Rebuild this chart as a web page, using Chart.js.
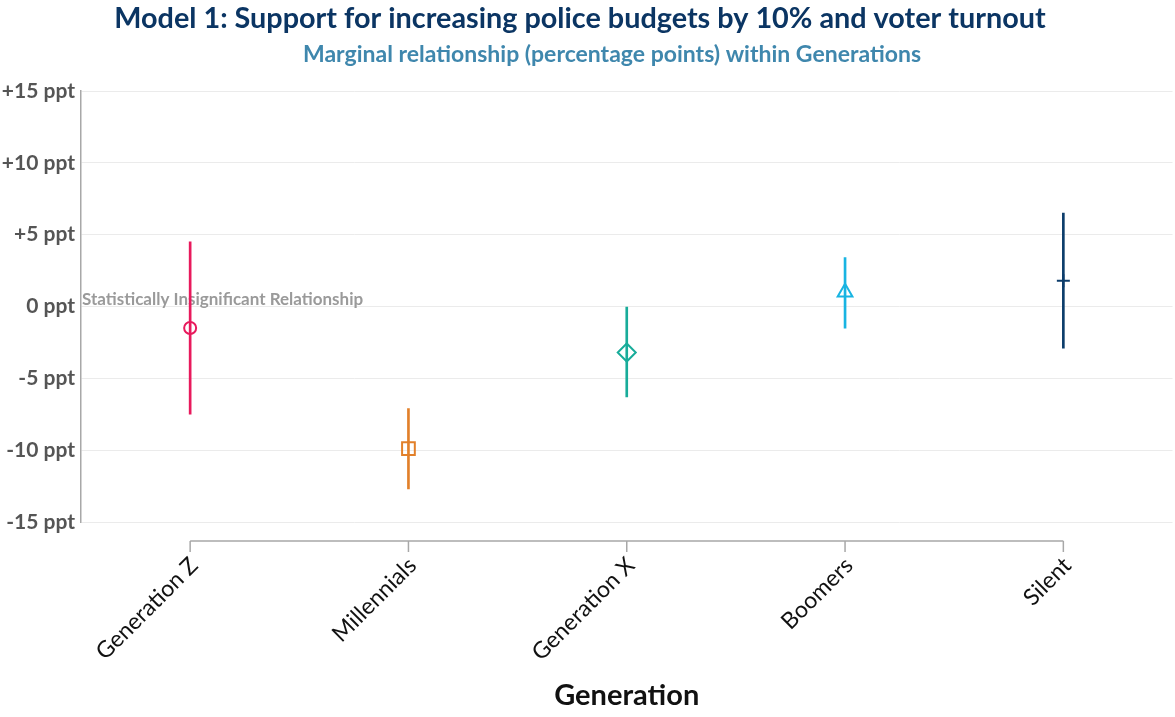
<!DOCTYPE html>
<html lang="en">
<head>
    <meta charset="UTF-8">
    <title>Model 1 - Police budgets and voter turnout</title>
    <script src="https://cdn.jsdelivr.net/npm/chart.js"></script>
    <style>
        html, body { margin: 0; padding: 0; background: #fff; overflow: hidden; }
        canvas { display: block; }
    </style>
</head>
<body>
    <!-- a few px wider than the window: Chart.js keeps ~8px right padding for the rotated labels -->
    <canvas id="chart" width="1181" height="717"></canvas>

    <script>
        // Data (percentage points)
        const generations = ['Generation Z', 'Millennials', 'Generation X', 'Boomers', 'Silent'];
        const estimate = [-1.5, -9.9, -3.2, 1.0, 1.8];
        const ciLow = [-7.5, -12.7, -6.3, -1.5, -2.9];
        const ciHigh = [4.5, -7.1, 0.0, 3.4, 6.5];
        const yTickValues = [-15, -10, -5, 0, 5, 10, 15];

        const colors = ['#e8195c', '#e2802a', '#18ac9a', '#18b4e2', '#0c3d6b'];
        const markers = ['circle', 'rect', 'rectRot', 'triangle', 'cross'];
        const markerSize = [6, 9, 9, 8.5, 6.5];

        const titleText = 'Model 1: Support for increasing police budgets by 10% and voter turnout';
        const subtitleText = 'Marginal relationship (percentage points) within Generations';
        const noteText = 'Statistically Insignificant Relationship';

        // titles, note and the x-axis bracket
        const extras = {
            id: 'extras',
            beforeDatasetsDraw(chart) {
                const ctx = chart.ctx;
                const y = chart.scales.y;
                ctx.save();
                ctx.font = 'bold 17px Lato';
                ctx.fillStyle = '#9a9a9a';
                ctx.textAlign = 'left';
                ctx.textBaseline = 'middle';
                ctx.fillText(noteText, chart.chartArea.left + 1, y.getPixelForValue(0) - 7);
                ctx.restore();
            },
            afterDraw(chart) {
                const ctx = chart.ctx;
                const x = chart.scales.x;
                ctx.save();
                ctx.textAlign = 'center';
                ctx.textBaseline = 'middle';
                ctx.font = 'bold 28.8px Lato';
                ctx.fillStyle = '#0b3563';
                ctx.fillText(titleText, 580, 19);
                ctx.font = 'bold 23px Lato';
                ctx.fillStyle = '#3f87ad';
                ctx.fillText(subtitleText, 612, 55);

                // x axis line spanning first to last category, with ticks
                const yLine = chart.chartArea.bottom + 19;
                const x0 = x.getPixelForValue(0);
                const x1 = x.getPixelForValue(generations.length - 1);
                ctx.strokeStyle = '#a8a8a8';
                ctx.lineWidth = 1.5;
                ctx.beginPath();
                ctx.moveTo(x0, yLine);
                ctx.lineTo(x1, yLine);
                generations.forEach((g, i) => {
                    const px = x.getPixelForValue(i);
                    ctx.moveTo(px, yLine);
                    ctx.lineTo(px, yLine + 11);
                });
                ctx.stroke();
                ctx.restore();
            }
        };

        new Chart(document.getElementById('chart'), {
            type: 'bar',
            data: {
                labels: generations,
                datasets: [{
                    label: 'Interval',
                    data: generations.map((g, i) => [ciLow[i], ciHigh[i]]),
                    backgroundColor: colors,
                    barThickness: 2,
                    borderWidth: 0,
                    order: 2
                }, {
                    type: 'line',
                    label: 'Estimate',
                    data: estimate,
                    showLine: false,
                    pointStyle: markers,
                    pointRadius: markerSize,
                    pointBorderWidth: 2,
                    pointBorderColor: colors,
                    pointBackgroundColor: 'rgba(0,0,0,0)',
                    order: 1
                }]
            },
            options: {
                responsive: false,
                animation: false,
                layout: { padding: { top: 91, right: 0, left: 0, bottom: 0 } },
                plugins: {
                    legend: { display: false },
                    tooltip: { enabled: false }
                },
                scales: {
                    x: {
                        type: 'category',
                        offset: true,
                        grid: { display: false, drawTicks: false },
                        border: { display: false },
                        ticks: {
                            maxRotation: 45,
                            minRotation: 45,
                            padding: 30,
                            labelOffset: 4,
                            color: '#111',
                            font: { family: 'Lato', size: 23 }
                        },
                        title: {
                            display: true,
                            text: 'Generation',
                            color: '#111',
                            font: { family: 'Lato', size: 29, weight: 'bold' }
                        },
                        afterFit(scale) {
                            scale.height = 195;
                            scale.paddingLeft = 0;
                            scale.paddingRight = 0;
                        }
                    },
                    y: {
                        min: -15,
                        max: 15,
                        afterBuildTicks(scale) {
                            scale.ticks = yTickValues.map(v => ({ value: v }));
                        },
                        grid: { color: '#ebebeb', lineWidth: 1, drawTicks: false },
                        border: { display: true, color: '#a8a8a8', width: 1.5 },
                        ticks: {
                            padding: 6,
                            color: '#555',
                            font: { family: 'Lato', size: 21, weight: 'bold' },
                            callback: v => (v > 0 ? '+' + v : v) + ' ppt'
                        },
                        afterFit(scale) { scale.width = 81; }
                    }
                }
            },
            plugins: [extras]
        });
    </script>
</body>
</html>
